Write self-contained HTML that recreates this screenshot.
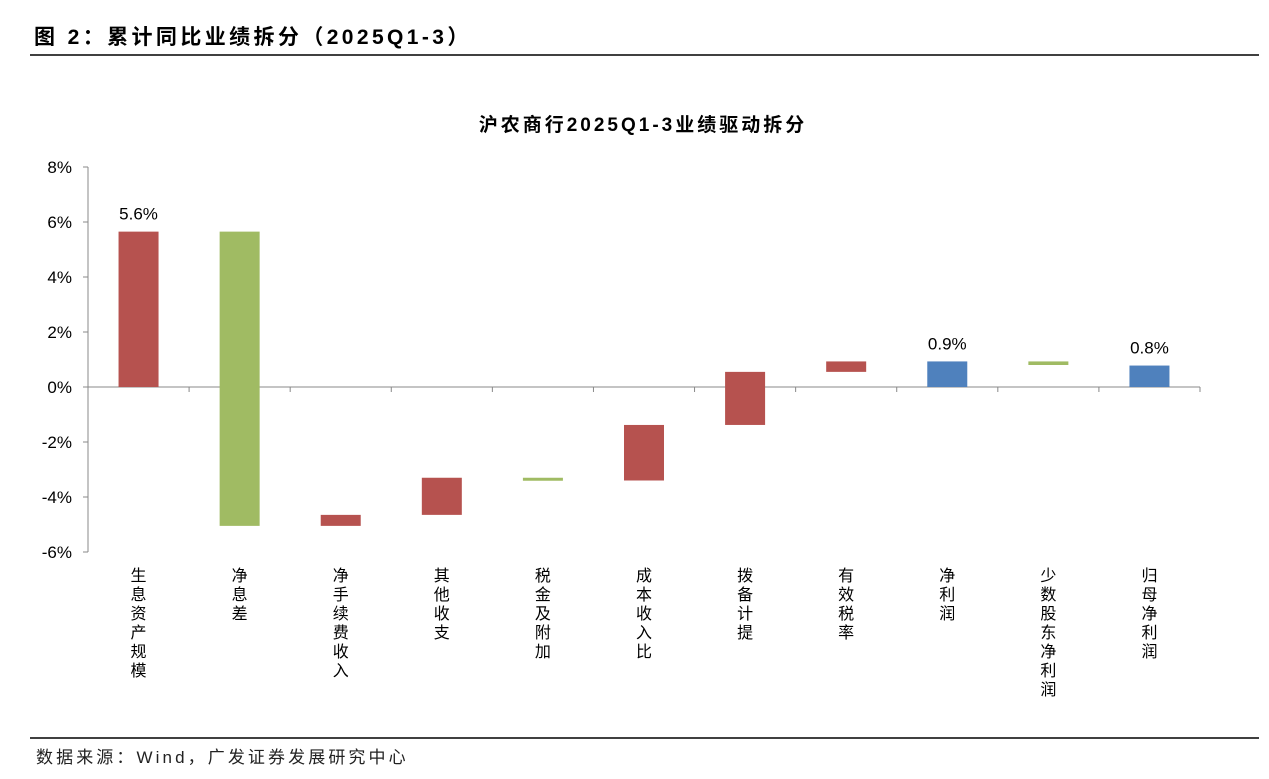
<!DOCTYPE html>
<html><head><meta charset="utf-8">
<style>
body{margin:0;background:#fff;font-family:"Liberation Sans","Noto Sans CJK SC",sans-serif;}
#wrap{position:relative;width:1269px;height:779px;overflow:hidden;}
</style></head>
<body>
<div id="wrap">
<svg id="svg" width="1269" height="779" style="position:absolute;left:0;top:0">
<text x="34" y="44" font-size="21" font-weight="bold" fill="#000" letter-spacing="3.4" font-family="Liberation Sans, Noto Sans CJK SC, sans-serif">图 2：累计同比业绩拆分（2025Q1-3）</text>
<line x1="30" y1="55" x2="1259" y2="55" stroke="#000" stroke-width="1.5"/>
<text x="643" y="131" font-size="19" font-weight="bold" text-anchor="middle" letter-spacing="3" font-family="Liberation Sans, Noto Sans CJK SC, sans-serif">沪农商行2025Q1-3业绩驱动拆分</text>
<line x1="30" y1="738" x2="1259" y2="738" stroke="#000" stroke-width="1.5"/>
<text x="36" y="763" font-size="17" fill="#222" letter-spacing="3.1" font-family="Liberation Sans, Noto Sans CJK SC, sans-serif">数据来源：Wind，广发证券发展研究中心</text>
<g id="plot"></g>
</svg>
</div>
<script>
const categories=["生息资产规模","净息差","净手续费收入","其他收支","税金及附加","成本收入比","拨备计提","有效税率","净利润","少数股东净利润","归母净利润"];
const barStart=[0,5.65,-5.05,-4.65,-3.30,-3.40,-1.38,0.55,0,0.93,0];
const barEnd=[5.65,-5.05,-4.65,-3.30,-3.40,-1.38,0.55,0.93,0.93,0.80,0.78];
const barType=["r","g","r","r","g","r","r","r","b","g","b"];
const valueLabels=["5.6%","","","","","","","","0.9%","","0.8%"];
const yTicks=[8,6,4,2,0,-2,-4,-6];
const colors={r:"#B6524F",g:"#A0BB63",b:"#4F81BD"};
const x0=88,x1=1200,yTop=167,yBot=552,vMax=8,vMin=-6;
function y(v){return yTop+(vMax-v)*(yBot-yTop)/(vMax-vMin);}
const band=(x1-x0)/categories.length;
function xc(i){return x0+band*(i+0.5);}
const g=document.getElementById('plot');
const NS="http://www.w3.org/2000/svg";
function mk(t,a){const e=document.createElementNS(NS,t);for(const k in a)e.setAttribute(k,a[k]);g.appendChild(e);return e;}
const ff="Liberation Sans, Noto Sans CJK SC, sans-serif";
let ax=mk('line',{x1:x0,y1:yTop,x2:x0,y2:yBot,stroke:"#888"});


yTicks.forEach(t=>{
 let l=mk('line',{x1:x0-5,y1:y(t),x2:x0,y2:y(t),stroke:"#888"});
 
 
 let tx=mk('text',{x:x0-16,y:y(t)+6,"font-size":17,"text-anchor":"end","font-family":ff});
 tx.textContent=t+"%";
 
 
});
let xa=mk('line',{x1:x0,y1:y(0),x2:x1,y2:y(0),stroke:"#888"});


for(let i=0;i<=categories.length;i++){
 let l=mk('line',{x1:x0+band*i,y1:y(0),x2:x0+band*i,y2:y(0)+5,stroke:"#888"});
 
 
}
categories.forEach((c,i)=>{
 const a=y(barStart[i]),b=y(barEnd[i]);
 const top=Math.min(a,b),h=Math.max(Math.abs(a-b),3);
 let r=mk('rect',{x:xc(i)-20,y:top,width:40,height:h,fill:colors[barType[i]]});
 
 
 if(valueLabels[i]){
  let t=mk('text',{x:xc(i),y:top-12,"font-size":17,"text-anchor":"middle","font-family":ff});
  t.textContent=valueLabels[i];
  
  
 }
 let ct=mk('text',{x:xc(i),"font-size":16,"text-anchor":"middle","font-family":ff});
 
 
 [...c].forEach((ch,k)=>{
  let s=document.createElementNS(NS,'tspan');
  s.setAttribute('x',xc(i));s.setAttribute('y',581+k*19);
  s.textContent=ch;ct.appendChild(s);
 });
});
</script>
</body></html>
